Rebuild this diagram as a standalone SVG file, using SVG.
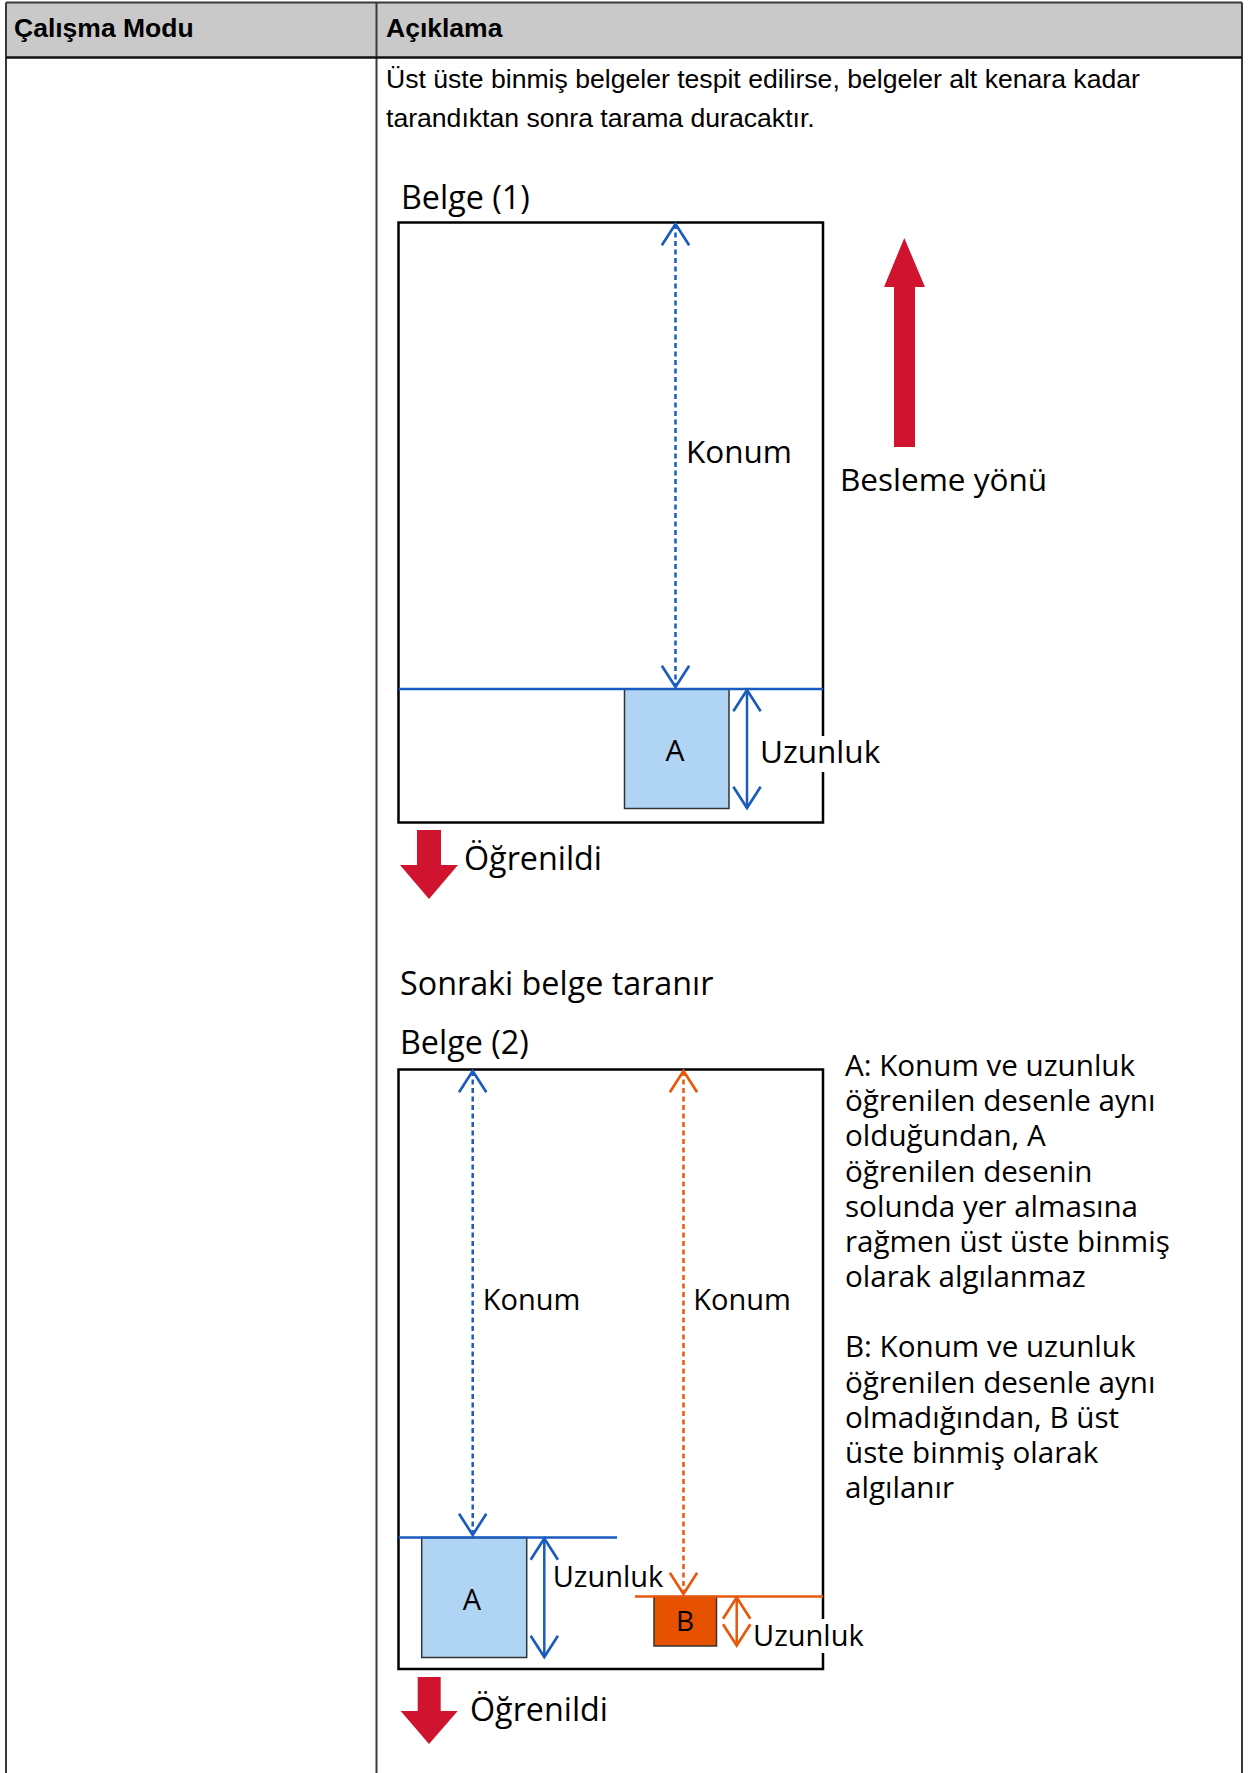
<svg xmlns="http://www.w3.org/2000/svg" width="1248" height="1773" viewBox="0 0 1248 1773">
  <style>
    .hdr { font-family: "Liberation Sans", Arial, sans-serif; font-weight: bold; font-size: 26.5px; fill: #000; }
    .body { font-family: "Liberation Sans", Arial, sans-serif; font-size: 26.6px; fill: #000; }
    .lbl { font-family: "Open Sans", "Noto Sans", sans-serif; font-size: 31.5px; fill: #000; }
    .lbl2 { font-family: "Open Sans", "Noto Sans", sans-serif; font-size: 29px; fill: #000; }
    .big { font-family: "Open Sans", "Noto Sans", sans-serif; font-size: 32.3px; fill: #000; }
    .para { font-family: "Open Sans", "Noto Sans", sans-serif; font-size: 29.6px; fill: #000; }
    .boxlbl { font-family: "Open Sans", "Noto Sans", sans-serif; font-size: 29px; fill: #000; text-anchor: middle; }
    .doc { fill: none; stroke: #000; stroke-width: 2.5; }
    .tbl { fill: none; stroke: #3a3a3a; stroke-width: 2; }
    .blue { stroke: #1a5bbf; stroke-width: 2.5; fill: none; }
    .orange { stroke: #e8580c; stroke-width: 2.5; fill: none; }
    .dash { stroke-dasharray: 5 3.5; }
    .redarrow { fill: #d0142f; }
  </style>
  <defs>
    <marker id="chevBlue" markerUnits="userSpaceOnUse" markerWidth="30" markerHeight="32" viewBox="-22 -15 24 30" refX="0" refY="0" orient="auto-start-reverse">
      <path d="M -20 -12.8 L 0 0 L -20 12.8" fill="none" stroke="#1a5bbf" stroke-width="2.5"/>
    </marker>
    <marker id="chevOrange" markerUnits="userSpaceOnUse" markerWidth="30" markerHeight="32" viewBox="-22 -15 24 30" refX="0" refY="0" orient="auto-start-reverse">
      <path d="M -20 -12.8 L 0 0 L -20 12.8" fill="none" stroke="#e8580c" stroke-width="2.5"/>
    </marker>
  </defs>

  <rect width="1248" height="1773" fill="#fff"/>

  <!-- table -->
  <g id="table">
    <rect x="6" y="2.5" width="1236" height="55" fill="#c9c9c9"/>
    <line class="tbl" x1="6" y1="2.5" x2="1242" y2="2.5"/>
    <line class="tbl" x1="6" y1="2.5" x2="6" y2="1773"/>
    <line class="tbl" x1="1242" y1="2.5" x2="1242" y2="1773"/>
    <line class="tbl" x1="376.5" y1="2.5" x2="376.5" y2="1773"/>
    <line x1="6" y1="57.5" x2="1242" y2="57.5" stroke="#111" stroke-width="2.5"/>
    <text class="hdr" x="14" y="37">Çalışma Modu</text>
    <text class="hdr" x="386" y="37">Açıklama</text>
    <text class="body" x="386" y="88">Üst üste binmiş belgeler tespit edilirse, belgeler alt kenara kadar</text>
    <text class="body" x="386" y="127">tarandıktan sonra tarama duracaktır.</text>
  </g>

  <!-- document 1 -->
  <g id="doc1">
    <text class="big" x="401" y="209">Belge (1)</text>
    <rect class="doc" x="398.5" y="222.5" width="424.5" height="600"/>
  </g>
  <g id="boxA1">
    <rect x="624.5" y="689" width="104.5" height="119.5" fill="#b0d4f3" stroke="#333" stroke-width="1.5"/>
    <text class="boxlbl" x="675" y="761" style="font-size:30px">A</text>
  </g>
  <g id="feed">
    <polygon class="redarrow" points="904.3,238 925,287 915,287 915,447 894,447 894,287 884,287"/>
    <text class="lbl" x="840" y="491">Besleme yönü</text>
  </g>
  <g id="learned1">
    <polygon class="redarrow" points="417,830 441,830 441,865 458,865 429,899 400,865 417,865"/>
    <text class="big" x="464" y="870">Öğrenildi</text>
  </g>

  <!-- document 2 -->
  <g id="next">
    <text class="big" x="400" y="995">Sonraki belge taranır</text>
  </g>
  <g id="doc2">
    <text class="big" x="400" y="1054">Belge (2)</text>
    <rect class="doc" x="398.5" y="1069.5" width="424.5" height="599.5"/>
  </g>
  <g id="boxA2">
    <rect x="421.7" y="1537.5" width="105" height="120" fill="#b0d4f3" stroke="#333" stroke-width="1.5"/>
    <text class="boxlbl" x="472" y="1610">A</text>
  </g>
  <g id="boxB">
    <rect x="654" y="1596.5" width="62.5" height="49.5" fill="#e65100" stroke="#333" stroke-width="1.5"/>
    <text class="boxlbl" x="685" y="1631" style="font-size:28px">B</text>
  </g>
  <g id="learned2">
    <polygon class="redarrow" points="417.7,1677 440.7,1677 440.7,1711 457.7,1711 429,1744 400.7,1711 417.7,1711"/>
    <text class="big" x="470" y="1721">Öğrenildi</text>
  </g>
  <g id="notes">
    <text class="para" x="845" y="1076">A: Konum ve uzunluk</text>
    <text class="para" x="845" y="1111.2">öğrenilen desenle aynı</text>
    <text class="para" x="845" y="1146.3">olduğundan, A</text>
    <text class="para" x="845" y="1181.5">öğrenilen desenin</text>
    <text class="para" x="845" y="1216.7">solunda yer almasına</text>
    <text class="para" x="845" y="1251.9">rağmen üst üste binmiş</text>
    <text class="para" x="845" y="1287">olarak algılanmaz</text>
    <text class="para" x="845" y="1357.4">B: Konum ve uzunluk</text>
    <text class="para" x="845" y="1392.5">öğrenilen desenle aynı</text>
    <text class="para" x="845" y="1427.7">olmadığından, B üst</text>
    <text class="para" x="845" y="1462.9">üste binmiş olarak</text>
    <text class="para" x="845" y="1498">algılanır</text>
  </g>

  <!-- connectors -->
  <g id="connectors">
    <!-- doc 1 -->
    <line class="blue" x1="398.5" y1="689" x2="823" y2="689"/>
    <line class="blue dash" x1="675.5" y1="224" x2="675.5" y2="687" marker-start="url(#chevBlue)" marker-end="url(#chevBlue)"/>
    <line class="blue" x1="747" y1="690" x2="747" y2="808" marker-start="url(#chevBlue)" marker-end="url(#chevBlue)"/>
    <!-- doc 2 -->
    <line class="blue" x1="398.5" y1="1537.5" x2="617" y2="1537.5"/>
    <line class="blue dash" x1="472.7" y1="1071" x2="472.7" y2="1535" marker-start="url(#chevBlue)" marker-end="url(#chevBlue)"/>
    <line class="blue" x1="544.3" y1="1538.5" x2="544.3" y2="1657" marker-start="url(#chevBlue)" marker-end="url(#chevBlue)"/>
    <line class="orange" x1="635" y1="1596.5" x2="823" y2="1596.5"/>
    <line class="orange dash" x1="683.5" y1="1071" x2="683.5" y2="1594" marker-start="url(#chevOrange)" marker-end="url(#chevOrange)"/>
    <line class="orange" x1="736.7" y1="1597.5" x2="736.7" y2="1645.5" marker-start="url(#chevOrange)" marker-end="url(#chevOrange)"/>
  </g>

  <!-- labels over connectors -->
  <g id="labels">
    <text class="lbl" x="686" y="463">Konum</text>
    <rect x="759" y="736" width="124" height="36" fill="#fff"/>
    <text class="lbl" x="760" y="763">Uzunluk</text>
    <text class="lbl2" x="482.7" y="1310">Konum</text>
    <text class="lbl2" x="693.3" y="1310">Konum</text>
    <text class="lbl2" x="552.7" y="1587">Uzunluk</text>
    <rect x="752" y="1619" width="116" height="34" fill="#fff"/>
    <text class="lbl2" x="753" y="1646">Uzunluk</text>
  </g>
</svg>
